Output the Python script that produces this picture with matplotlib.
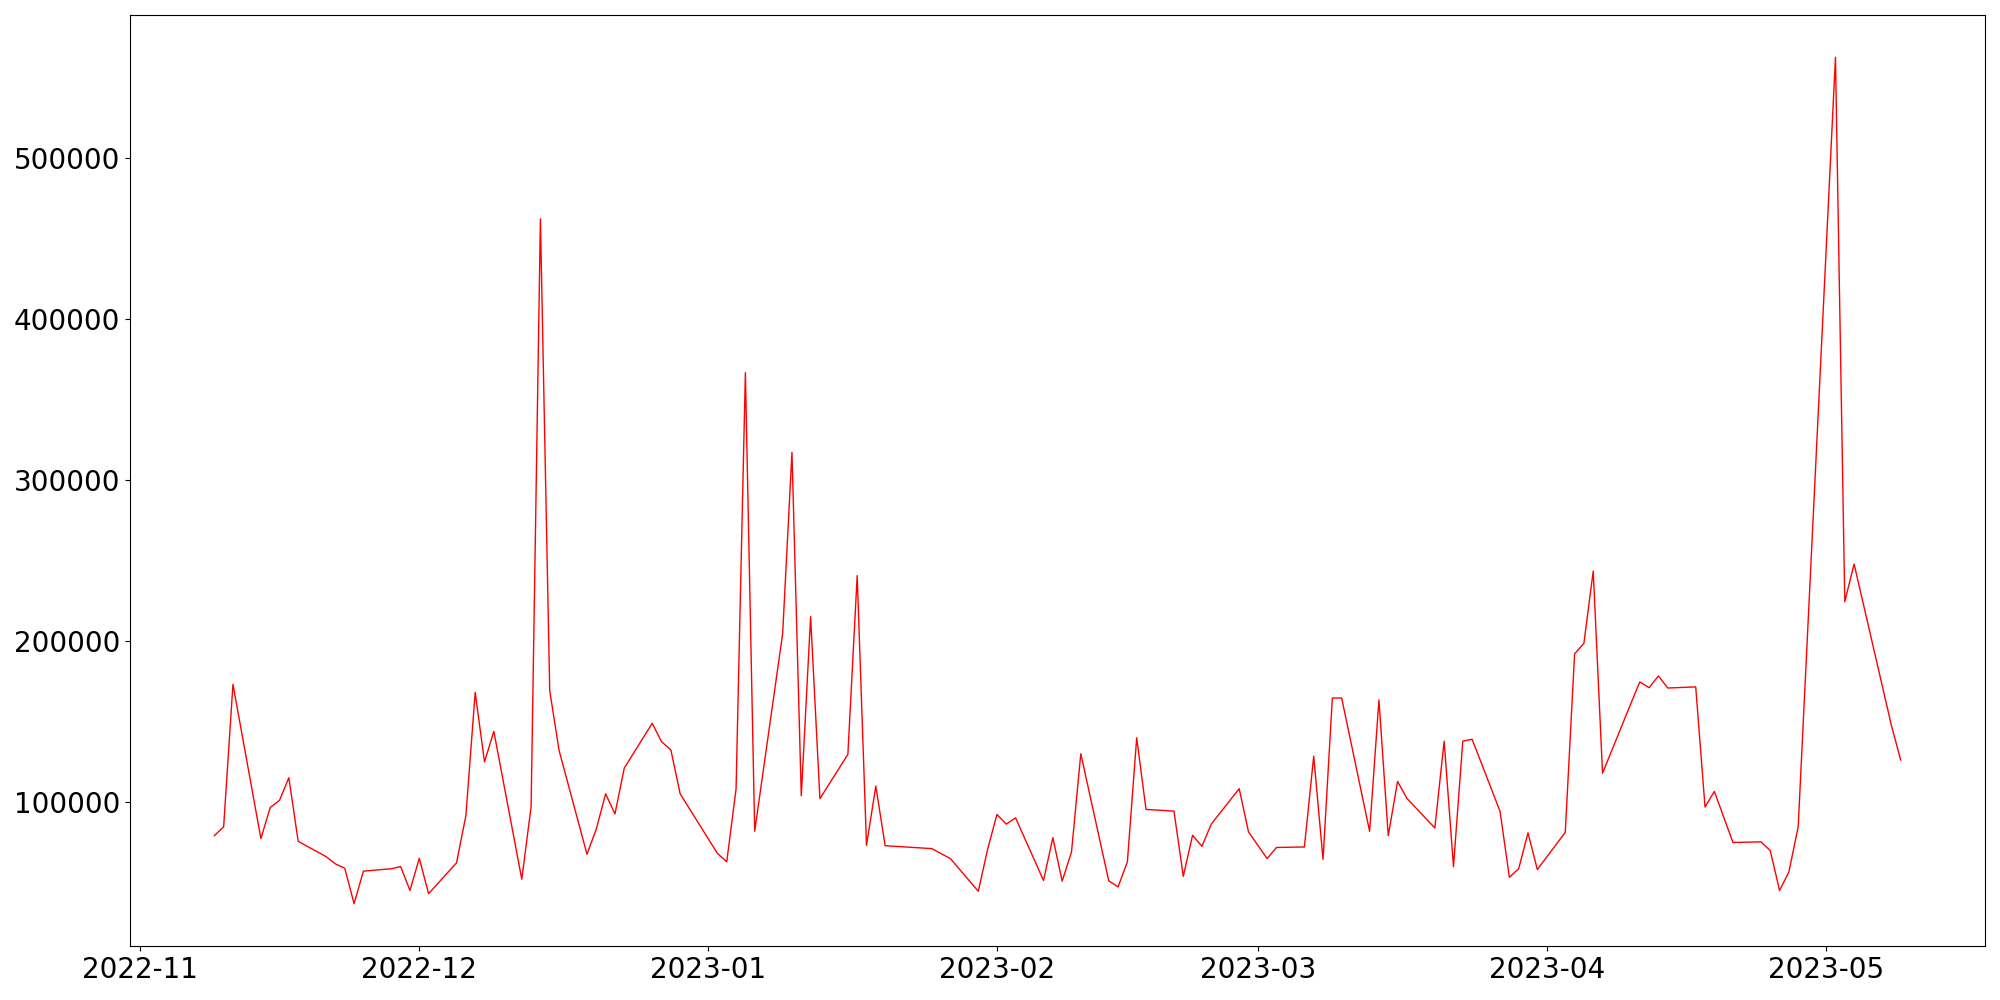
import matplotlib
matplotlib.use("Agg")
import matplotlib.pyplot as plt
import pandas as pd

# daily values (gaps on missing days)
dates = [
    "2022-11-09", "2022-11-10", "2022-11-11", "2022-11-14", "2022-11-15", "2022-11-16",
    "2022-11-17", "2022-11-18", "2022-11-21", "2022-11-22", "2022-11-23", "2022-11-24",
    "2022-11-25", "2022-11-28", "2022-11-29", "2022-11-30", "2022-12-01", "2022-12-02",
    "2022-12-05", "2022-12-06", "2022-12-07", "2022-12-08", "2022-12-09", "2022-12-12",
    "2022-12-13", "2022-12-14", "2022-12-15", "2022-12-16", "2022-12-19", "2022-12-20",
    "2022-12-21", "2022-12-22", "2022-12-23", "2022-12-26", "2022-12-27", "2022-12-28",
    "2022-12-29", "2023-01-02", "2023-01-03", "2023-01-04", "2023-01-05", "2023-01-06",
    "2023-01-09", "2023-01-10", "2023-01-11", "2023-01-12", "2023-01-13", "2023-01-16",
    "2023-01-17", "2023-01-18", "2023-01-19", "2023-01-20", "2023-01-25", "2023-01-27",
    "2023-01-30", "2023-01-31", "2023-02-01", "2023-02-02", "2023-02-03", "2023-02-06",
    "2023-02-07", "2023-02-08", "2023-02-09", "2023-02-10", "2023-02-13", "2023-02-14",
    "2023-02-15", "2023-02-16", "2023-02-17", "2023-02-20", "2023-02-21", "2023-02-22",
    "2023-02-23", "2023-02-24", "2023-02-27", "2023-02-28", "2023-03-02", "2023-03-03",
    "2023-03-06", "2023-03-07", "2023-03-08", "2023-03-09", "2023-03-10", "2023-03-13",
    "2023-03-14", "2023-03-15", "2023-03-16", "2023-03-17", "2023-03-20", "2023-03-21",
    "2023-03-22", "2023-03-23", "2023-03-24", "2023-03-27", "2023-03-28", "2023-03-29",
    "2023-03-30", "2023-03-31", "2023-04-03", "2023-04-04", "2023-04-05", "2023-04-06",
    "2023-04-07", "2023-04-10", "2023-04-11", "2023-04-12", "2023-04-13", "2023-04-14",
    "2023-04-17", "2023-04-18", "2023-04-19", "2023-04-21", "2023-04-24", "2023-04-25",
    "2023-04-26", "2023-04-27", "2023-04-28", "2023-05-02", "2023-05-03", "2023-05-04",
    "2023-05-08", "2023-05-09",
]
values = [
    79000, 84500, 173000, 77200, 96500, 101000,
    115000, 75500, 66000, 61500, 58800, 36800,
    57000, 58500, 59800, 45000, 65000, 43000,
    62200, 91500, 168000, 124800, 143800, 52000,
    97000, 462000, 169000, 132000, 67500, 83200,
    105000, 92500, 121000, 148800, 137400, 132300,
    105000, 68000, 62800, 108000, 366500, 81800,
    204500, 317000, 103800, 215000, 102000, 129500,
    240500, 73000, 109800, 72800, 71000, 64800,
    44500, 70600, 92200, 86200, 90100, 51200,
    77800, 50800, 68800, 129900, 51000, 47200,
    62800, 139800, 95300, 94300, 53800, 79300,
    72400, 86200, 108200, 81400, 64800, 71700,
    72000, 128400, 64300, 164500, 164500, 81700,
    163300, 79000, 112700, 102200, 83800, 137700,
    59800, 137700, 138900, 94100, 53200, 58500,
    80800, 58000, 81100, 191900, 198500, 243300,
    117800, 160500, 174500, 170900, 178200, 170700,
    171400, 96800, 106500, 74800, 75200, 69800,
    45000, 56500, 84600, 562300, 224300, 247700,
    147600, 126000,
]

df = pd.DataFrame({"date": pd.to_datetime(dates), "value": values})

fig, ax = plt.subplots(figsize=(20, 10), dpi=100)
ax.plot(df["date"], df["value"], color="r", linewidth=1)
ax.tick_params(labelsize=20)
plt.subplots_adjust(left=0.065, right=0.9925, bottom=0.054, top=0.985)

plt.savefig("out.png")
